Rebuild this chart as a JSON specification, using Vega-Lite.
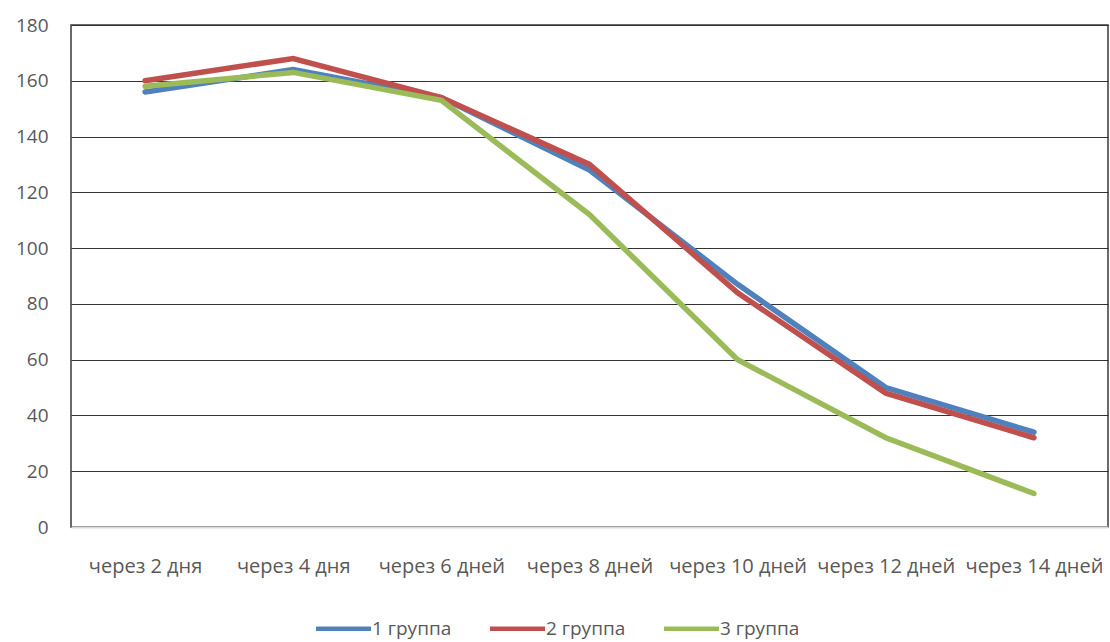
{
  "$schema": "https://vega.github.io/schema/vega-lite/v6.json",
  "width": 1037,
  "height": 502,
  "autosize": "none",
  "padding": {"left": 71, "top": 25, "right": 2, "bottom": 115},
  "background": "white",
  "data": {
    "values": [
      {"day": "через 2 дня", "group": "1 группа", "value": 156},
      {"day": "через 4 дня", "group": "1 группа", "value": 164},
      {"day": "через 6 дней", "group": "1 группа", "value": 154},
      {"day": "через 8 дней", "group": "1 группа", "value": 128},
      {"day": "через 10 дней", "group": "1 группа", "value": 87},
      {"day": "через 12 дней", "group": "1 группа", "value": 50},
      {"day": "через 14 дней", "group": "1 группа", "value": 34},
      {"day": "через 2 дня", "group": "2 группа", "value": 160},
      {"day": "через 4 дня", "group": "2 группа", "value": 168},
      {"day": "через 6 дней", "group": "2 группа", "value": 154},
      {"day": "через 8 дней", "group": "2 группа", "value": 130},
      {"day": "через 10 дней", "group": "2 группа", "value": 84},
      {"day": "через 12 дней", "group": "2 группа", "value": 48},
      {"day": "через 14 дней", "group": "2 группа", "value": 32},
      {"day": "через 2 дня", "group": "3 группа", "value": 158},
      {"day": "через 4 дня", "group": "3 группа", "value": 163},
      {"day": "через 6 дней", "group": "3 группа", "value": 153},
      {"day": "через 8 дней", "group": "3 группа", "value": 112},
      {"day": "через 10 дней", "group": "3 группа", "value": 60},
      {"day": "через 12 дней", "group": "3 группа", "value": 32},
      {"day": "через 14 дней", "group": "3 группа", "value": 12}
    ]
  },
  "config": {
    "font": "Open Sans",
    "view": {"stroke": "#3a3a3a", "strokeWidth": 1.5},
    "axis": {"labelFont": "Open Sans", "labelColor": "#595959", "labelFontSize": 20}
  },
  "mark": {"type": "line", "strokeWidth": 5.5, "strokeCap": "round", "strokeJoin": "miter"},
  "encoding": {
    "x": {
      "field": "day",
      "type": "nominal",
      "sort": null,
      "scale": {"type": "point", "padding": 0.5},
      "axis": {
        "title": null,
        "labelAngle": 0,
        "ticks": false,
        "grid": false,
        "domainColor": "#d9d9d9",
        "domainWidth": 2,
        "labelPadding": 29,
        "labelFontSize": 20
      }
    },
    "y": {
      "field": "value",
      "type": "quantitative",
      "scale": {"domain": [0, 180], "nice": false},
      "axis": {
        "title": null,
        "values": [0, 20, 40, 60, 80, 100, 120, 140, 160, 180],
        "ticks": false,
        "domain": false,
        "gridColor": "#333333",
        "gridWidth": 1.2,
        "labelPadding": 23,
        "labelFontSize": 19
      }
    },
    "color": {
      "field": "group",
      "type": "nominal",
      "scale": {"domain": ["1 группа", "2 группа", "3 группа"], "range": ["#4F81BD", "#C0504D", "#9BBB59"]},
      "legend": {
        "title": null,
        "orient": "none",
        "direction": "horizontal",
        "legendX": 241,
        "legendY": 594,
        "padding": 0,
        "symbolType": "M-1,0L9,0",
        "symbolSize": 121,
        "symbolStrokeWidth": 4.5,
        "labelFontSize": 19,
        "labelColor": "#595959",
        "labelOffset": 41,
        "columnPadding": 29,
        "labelFont": "Open Sans"
      }
    }
  }
}
